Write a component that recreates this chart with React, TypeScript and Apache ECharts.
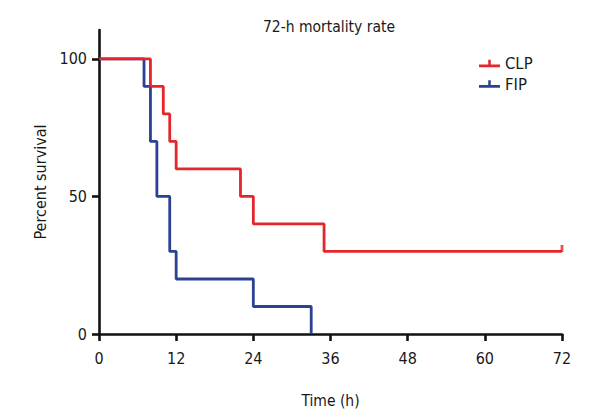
import React, { useEffect, useRef } from "react";
import * as echarts from "echarts";

const titleText = "72-h mortality rate";
const xTicks = [0, 12, 24, 36, 48, 60, 72];
const yTicks = [0, 50, 100];

const timesCLP = [0, 8, 10, 11, 12, 22, 24, 35, 72];
const survivalCLP = [100, 90, 80, 70, 60, 50, 40, 30, 30];
const timesFIP = [0, 7, 8, 9, 11, 12, 24, 33];
const survivalFIP = [100, 90, 70, 50, 30, 20, 10, 0];
const censoredCLPTimes = [72];
const censoredCLPValues = [30];

const FONT = "'Liberation Sans Narrow', 'DejaVu Sans Condensed', 'Noto Sans', sans-serif";
const RED = "#e3262b";
const BLUE = "#2b4194";
const AXIS = "#111111";
const TEXT = "#1a1a1a";

export default function App() {
  const ref = useRef<HTMLDivElement>(null);
  useEffect(() => {
    if (!ref.current) return;
    const chart = echarts.init(ref.current, null, { renderer: "svg" });
    const clp = timesCLP.map((t, i) => [t, survivalCLP[i]]);
    const fip = timesFIP.map((t, i) => [t, survivalFIP[i]]);
    const cens = censoredCLPTimes.map((t, i) => [t, censoredCLPValues[i]]);
    const icon = "path://M0,8 L20,8 L20,10.6 L0,10.6 Z M8.8,3.5 L11.2,3.5 L11.2,8 L8.8,8 Z";
    chart.setOption({
      animation: false,
      backgroundColor: "#ffffff",
      textStyle: { fontFamily: FONT },
      graphic: [
        {
          type: "text",
          x: 329,
          y: 27,
          style: {
            text: titleText,
            fontFamily: FONT,
            fontSize: 15.5,
            fill: TEXT,
            textAlign: "center",
            textVerticalAlign: "middle",
          },
        },
      ],
      legend: {
        data: ["CLP", "FIP"],
        orient: "vertical",
        left: 474,
        top: 50,
        itemGap: 3.5,
        itemWidth: 21,
        itemHeight: 8,
        icon,
        textStyle: { fontFamily: FONT, fontSize: 16.5, color: TEXT },
        itemStyle: { borderWidth: 0 },
      },
      grid: { left: 99, right: 38, top: 30, bottom: 86, containLabel: false },
      xAxis: {
        type: "value",
        min: 0,
        max: 72,
        interval: 12,
        name: "Time (h)",
        nameLocation: "middle",
        nameGap: 59,
        nameTextStyle: { fontFamily: FONT, fontSize: 15.5, color: TEXT },
        axisLine: { show: true, lineStyle: { color: AXIS, width: 2.6 } },
        axisTick: { show: true, length: 7, lineStyle: { color: AXIS, width: 2.6 } },
        axisLabel: {
          fontFamily: FONT,
          fontSize: 16,
          color: TEXT,
          margin: 16,
          customValues: xTicks,
        },
        splitLine: { show: false },
      },
      yAxis: {
        type: "value",
        min: 0,
        max: 110.5,
        name: "Percent survival",
        nameLocation: "middle",
        nameGap: 51,
        nameRotate: 90,
        nameTextStyle: { fontFamily: FONT, fontSize: 16, color: TEXT },
        axisLine: { show: true, lineStyle: { color: AXIS, width: 2.6 } },
        axisTick: { show: true, length: 7, lineStyle: { color: AXIS, width: 2.6 }, customValues: yTicks },
        axisLabel: {
          fontFamily: FONT,
          fontSize: 16,
          color: TEXT,
          margin: 12,
          customValues: yTicks,
        },
        splitLine: { show: false },
      },
      series: [
        {
          name: "FIP",
          type: "line",
          step: "end",
          data: fip,
          showSymbol: false,
          symbol: "none",
          clip: false,
          z: 2,
          color: BLUE,
          itemStyle: { color: BLUE },
          lineStyle: { color: BLUE, width: 2.8 },
        },
        {
          name: "CLP",
          type: "line",
          step: "end",
          data: clp,
          showSymbol: false,
          symbol: "none",
          clip: false,
          z: 3,
          color: RED,
          itemStyle: { color: RED },
          lineStyle: { color: RED, width: 2.8 },
        },
        {
          name: "CLP censored",
          type: "scatter",
          data: cens,
          symbol: "rect",
          symbolSize: [2.8, 7],
          symbolOffset: [0, -3],
          clip: false,
          z: 3,
          itemStyle: { color: RED },
          silent: true,
        },
      ],
    });
    return () => chart.dispose();
  }, []);
  return <div ref={ref} style={{ width: 600, height: 420, position: "absolute", left: 0, top: 0 }} />;
}
